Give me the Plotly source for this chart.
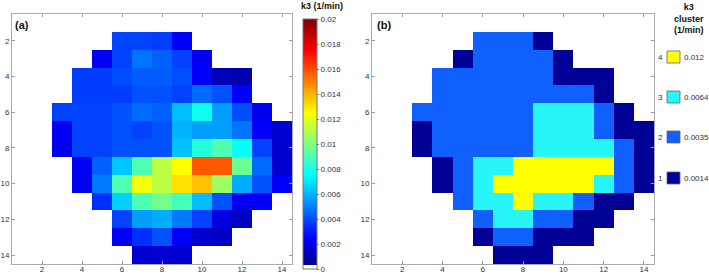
import plotly.graph_objects as go

N = None
# k3 map (1/min), rows 1..14 (top to bottom), cols 1..14
k3_map = [
    [N, N, N, N, N, N, N, N, N, N, N, N, N, N],
    [N, N, N, N, N, 0.0038, 0.0038, 0.0037, 0.0024, N, N, N, N, N],
    [N, N, N, N, 0.0023, 0.0038, 0.0048, 0.0044, 0.0038, 0.0023, N, N, N, N],
    [N, N, N, 0.0037, 0.0037, 0.0040, 0.0043, 0.0043, 0.0040, 0.0024, 0.0012, 0.0010, N, N],
    [N, N, N, 0.0037, 0.0037, 0.0037, 0.0041, 0.0041, 0.0038, 0.0046, 0.0041, 0.0024, N, N],
    [N, N, 0.0038, 0.0038, 0.0038, 0.0041, 0.0046, 0.0044, 0.0062, 0.0078, 0.0056, 0.0040, 0.0022, N],
    [N, N, 0.0023, 0.0038, 0.0038, 0.0041, 0.0038, 0.0041, 0.0060, 0.0056, 0.0056, 0.0048, 0.0024, 0.0016],
    [N, N, 0.0023, 0.0038, 0.0038, 0.0041, 0.0041, 0.0041, 0.0063, 0.0082, 0.0090, 0.0076, 0.0038, 0.0016],
    [N, N, N, 0.0023, 0.0044, 0.0064, 0.0090, 0.0112, 0.0125, 0.0158, 0.0158, 0.0096, 0.0046, 0.0016],
    [N, N, N, 0.0022, 0.0049, 0.0090, 0.0123, 0.0112, 0.0131, 0.0137, 0.0106, 0.0059, 0.0041, 0.0024],
    [N, N, N, N, 0.0034, 0.0066, 0.0090, 0.0098, 0.0088, 0.0062, 0.0041, 0.0023, 0.0023, N],
    [N, N, N, N, N, 0.0038, 0.0056, 0.0059, 0.0049, 0.0038, 0.0019, 0.0013, N, N],
    [N, N, N, N, N, 0.0024, 0.0034, 0.0041, 0.0024, 0.0016, 0.0013, N, N, N],
    [N, N, N, N, N, N, 0.0016, 0.0016, 0.0016, N, N, N, N, N],
]

# cluster map (1..4)
cluster_map = [
    [N, N, N, N, N, N, N, N, N, N, N, N, N, N],
    [N, N, N, N, N, 2, 2, 2, 1, N, N, N, N, N],
    [N, N, N, N, 1, 2, 2, 2, 2, 1, N, N, N, N],
    [N, N, N, 2, 2, 2, 2, 2, 2, 1, 1, 1, N, N],
    [N, N, N, 2, 2, 2, 2, 2, 2, 2, 2, 1, N, N],
    [N, N, 2, 2, 2, 2, 2, 2, 3, 3, 3, 2, 1, N],
    [N, N, 1, 2, 2, 2, 2, 2, 3, 3, 3, 2, 1, 1],
    [N, N, 1, 2, 2, 2, 2, 2, 3, 3, 3, 3, 2, 1],
    [N, N, N, 1, 2, 3, 3, 4, 4, 4, 4, 4, 2, 1],
    [N, N, N, 1, 2, 3, 4, 4, 4, 4, 4, 3, 2, 1],
    [N, N, N, N, 2, 3, 3, 4, 3, 3, 2, 1, 1, N],
    [N, N, N, N, N, 2, 3, 3, 2, 2, 1, 1, N, N],
    [N, N, N, N, N, 1, 2, 2, 1, 1, 1, N, N, N],
    [N, N, N, N, N, N, 1, 1, 1, N, N, N, N, N],
]

grid_idx = list(range(1, 15))
axis_ticks = [2, 4, 6, 8, 10, 12, 14]
cbar_ticks = [0, 0.002, 0.004, 0.006, 0.008, 0.01, 0.012, 0.014, 0.016, 0.018, 0.02]
cbar_labels = ["0", "0.002", "0.004", "0.006", "0.008", "0.01", "0.012", "0.014", "0.016", "0.018", "0.02"]
cluster_ids = ["1", "2", "3", "4"]
cluster_k3 = ["0.0014", "0.0035", "0.0064", "0.012"]
cluster_colors = ["rgb(0,0,150)", "rgb(16,96,255)", "rgb(40,245,245)", "rgb(255,255,0)"]

W, H = 709, 275
FONT = "Arial, Liberation Sans, sans-serif"

jet = [
    [0.0, "rgb(255,255,255)"], [0.0156, "rgb(255,255,255)"],
    [0.0156, "rgb(0,0,143)"], [0.125, "rgb(0,0,255)"],
    [0.375, "rgb(0,255,255)"], [0.625, "rgb(255,255,0)"],
    [0.875, "rgb(255,0,0)"], [1.0, "rgb(128,0,0)"],
]

disc = []
for i, c in enumerate(cluster_colors):
    disc.append([i / 4, c])
    disc.append([(i + 1) / 4, c])

fig = go.Figure()
fig.add_trace(go.Heatmap(
    x=grid_idx, y=grid_idx, z=k3_map, zmin=0, zmax=0.02, colorscale=jet,
    xaxis="x", yaxis="y", hoverongaps=False,
    colorbar=dict(
        x=303 / W, xanchor="left", y=1 - 19 / H, yanchor="top",
        thickness=14, thicknessmode="pixels", len=250, lenmode="pixels",
        tickvals=cbar_ticks, ticktext=cbar_labels, ticks="outside", ticklen=2,
        tickcolor="#777", outlinewidth=1, outlinecolor="#777",
        tickfont=dict(size=8, color="#333", family=FONT), xpad=0, ypad=0,
    ),
))
fig.add_trace(go.Heatmap(
    x=grid_idx, y=grid_idx, z=cluster_map, zmin=0.5, zmax=4.5, colorscale=disc,
    xaxis="x2", yaxis="y2", showscale=False, hoverongaps=False,
))

ax_common = dict(
    range=[0.5, 14.5], tickvals=axis_ticks, ticks="inside", ticklen=3,
    tickcolor="#999", showline=True, linecolor="#aaa", linewidth=1, mirror="allticks",
    showgrid=False, zeroline=False, tickfont=dict(size=8, color="#333", family=FONT),
    automargin=False,
)
xa = {**ax_common, "ticklabelstandoff": -3}
ya = {**ax_common, "range": [14.5, 0.5]}
yd = [1 - 264 / H, 1 - 14 / H]
fig.update_layout(
    width=W, height=H, margin=dict(l=0, r=0, t=0, b=0),
    paper_bgcolor="white", plot_bgcolor="white",
    font=dict(family=FONT),
    xaxis=dict(domain=[12 / W, 292 / W], anchor="y", **xa),
    yaxis=dict(domain=yd, anchor="x", autorange=False, **ya),
    xaxis2=dict(domain=[372 / W, 654 / W], anchor="y2", **xa),
    yaxis2=dict(domain=yd, anchor="x2", autorange=False, **ya),
)

ann = [
    dict(text="<b>(a)</b>", x=13 / W, y=1 - 25 / H, xanchor="left", yanchor="middle",
         font=dict(size=11, color="#111")),
    dict(text="<b>(b)</b>", x=375 / W, y=1 - 25 / H, xanchor="left", yanchor="middle",
         font=dict(size=11, color="#111")),
    dict(text="<b>k3 (1/min)</b>", x=322 / W, y=1 - 6 / H, xanchor="center", yanchor="middle",
         font=dict(size=9, color="#111")),
    dict(text="<b>k3</b><br><b>cluster</b><br><b>(1/min)</b>", x=689 / W, y=1 - 0 / H,
         xanchor="center", yanchor="top", font=dict(size=9, color="#111")),
]
shapes = []
ys = [178, 137, 97, 57]
for cid, val, col, yc in zip(cluster_ids, cluster_k3, cluster_colors, ys):
    shapes.append(dict(type="rect", xref="paper", yref="paper",
                       x0=667 / W, x1=680 / W, y0=1 - (yc + 6) / H, y1=1 - (yc - 6) / H,
                       fillcolor=col, line=dict(color="#666", width=0.8)))
    ann.append(dict(text=cid, x=665 / W, y=1 - yc / H, xanchor="right", yanchor="middle",
                    font=dict(size=8, color="#333")))
    ann.append(dict(text=val, x=682 / W, y=1 - yc / H, xanchor="left", yanchor="middle",
                    font=dict(size=8, color="#333")))
for a in ann:
    a.update(xref="paper", yref="paper", showarrow=False)
fig.update_layout(annotations=ann, shapes=shapes)

fig.write_html(
    "out.html",
    config={"displayModeBar": False},
    post_script="document.body.style.margin='0';document.body.style.overflow='hidden';",
)
